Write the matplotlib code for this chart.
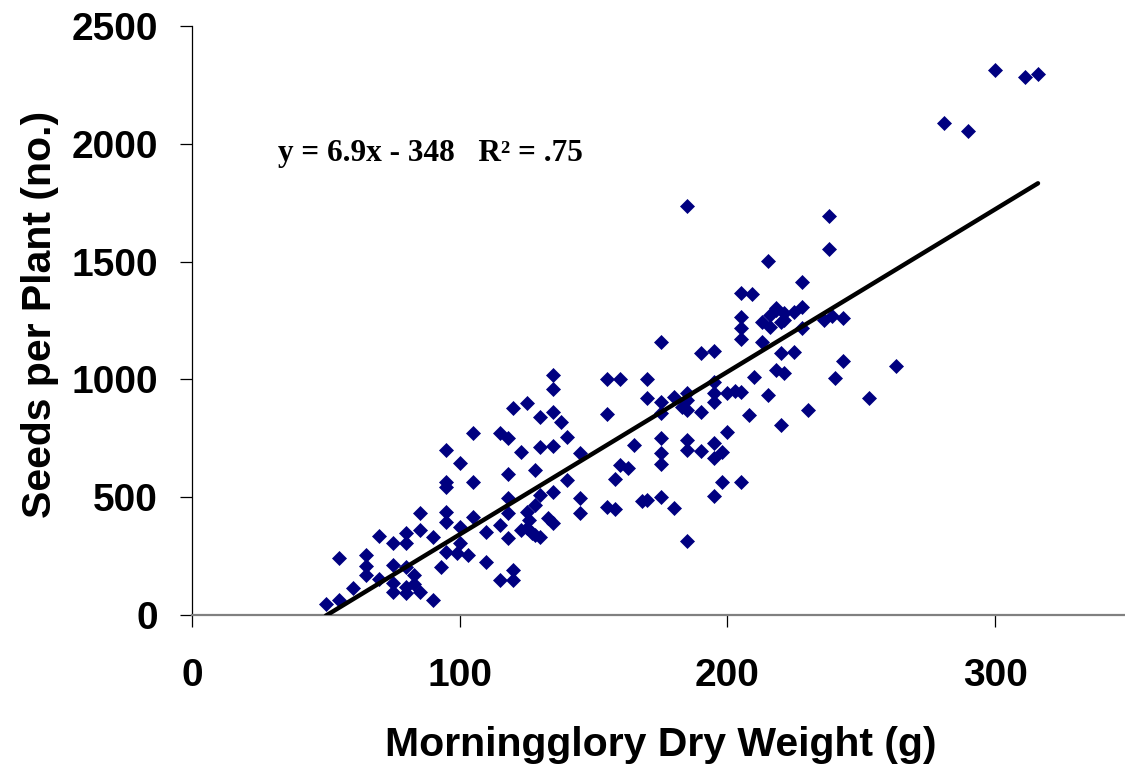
import matplotlib
matplotlib.use('Agg')
import matplotlib.pyplot as plt
import numpy as np

# dados (peso seco x sementes)
dry_weight = [50, 55, 55, 60, 65, 65, 65, 70, 70, 75, 75, 75, 75, 80, 80, 80, 80, 80, 83, 83,
              85, 85, 85, 90, 90, 93, 95, 95, 95, 95, 95, 95, 100, 100, 100, 99, 103, 105, 105, 105,
              110, 110, 115, 118, 115, 115, 118, 118, 118, 118, 120, 120, 120, 123, 123, 125, 125, 126, 125, 127,
              128, 128, 128, 130, 130, 130, 130, 133, 135, 135, 135, 135, 135, 135, 138, 140, 140, 145, 145, 145,
              155, 160, 155, 158, 160, 163, 155, 158, 165, 168, 170, 170, 170, 175, 175, 175, 175, 175, 175, 175,
              180, 180, 185, 185, 185, 183, 185, 185, 185, 185, 190, 190, 190, 195, 195, 195, 195, 195, 198, 195,
              195, 200, 203, 200, 198,
              205, 209, 205, 205, 205, 205, 205, 208, 210, 215, 218, 218, 225, 221, 216, 221, 213, 220, 216, 228,
              228, 228, 213, 220, 225, 218, 221, 215, 220, 230, 236, 239, 243, 243, 240, 253, 263, 238, 238, 281,
              290, 300, 311, 316]
seeds = [48, 62, 240, 113, 255, 209, 170, 337, 153, 304, 212, 134, 99, 347, 304, 205, 120, 95, 170, 130,
         432, 361, 99, 332, 62, 205, 700, 566, 542, 438, 396, 269, 644, 375, 304, 262, 255, 771, 566, 415,
         354, 224, 771, 750, 382, 149, 598, 495, 432, 325, 877, 191, 149, 693, 361, 898, 439, 404, 368, 346,
         617, 467, 340, 840, 712, 509, 332, 410, 1019, 958, 863, 719, 523, 392, 818, 755, 573, 686, 498, 432,
         1002, 1002, 853, 576, 637, 623, 460, 450, 722, 485, 490, 1002, 920, 1160, 906, 856, 750, 686, 640, 502,
         927, 453, 1737, 941, 913, 884, 870, 743, 700, 315, 1111, 863, 695, 1122, 990, 941, 905, 729, 693, 665,
         506, 941, 951, 775, 566,
         1365, 1361, 1266, 1217, 1170, 948, 566, 849, 1012, 1503, 1302, 1294, 1287, 1280, 1273, 1252, 1245, 1245, 1224, 1217,
         1309, 1415, 1160, 1111, 1117, 1040, 1028, 934, 806, 870, 1252, 1269, 1259, 1078, 1007, 922, 1057, 1553, 1693, 2090,
         2054, 2313, 2282, 2295]

slope = 6.9
intercept = -348
eq_text = 'y = 6.9x - 348   R\u00b2 = .75'

x_ticks = [0, 100, 200, 300]
y_ticks = [0, 500, 1000, 1500, 2000, 2500]

cor_ponto = '#000080'

plt.rcParams['font.family'] = 'Liberation Sans'
plt.rcParams['font.weight'] = 'bold'

fig = plt.figure(figsize=(11.25, 7.73), dpi=100)
ax = fig.add_axes([192/1125, 158/773, 1 - 192/1125, (615 - 26)/773])

#pontos
ax.plot(dry_weight, seeds, linestyle='none', marker='D', markersize=7.2,
        color=cor_ponto, markeredgecolor=cor_ponto, markeredgewidth=0.5, zorder=3)

#linha de tendencia
xl = np.array([min(dry_weight), max(dry_weight)])
ax.plot(xl, slope*xl + intercept, color='black', linewidth=3.2, solid_capstyle='round', zorder=4)

ax.text(32, 1960, eq_text, fontsize=22.5, fontfamily='Liberation Serif', fontweight='bold',
        ha='left', va='center')

ax.set_xlim(0, 348.5)
ax.set_ylim(0, 2500)
ax.set_xticks(x_ticks)
ax.set_yticks(y_ticks)

ax.spines['top'].set_visible(False)
ax.spines['right'].set_visible(False)
ax.spines['left'].set_linewidth(0.9)
ax.spines['bottom'].set_color('#808080')
ax.spines['bottom'].set_linewidth(1.6)

ax.tick_params(axis='x', direction='out', length=8.6, width=0.9, pad=22, labelsize=28)
ax.tick_params(axis='y', direction='out', length=8.6, width=0.9, pad=16, labelsize=28)
ax.yaxis.get_major_ticks()[0].tick1line.set_color('#808080')
for lab in ax.get_xticklabels() + ax.get_yticklabels():
    lab.set_fontweight('bold')

fig.text(40/1125, 1 - 314/773, 'Seeds per Plant (no.)', rotation=90, fontsize=29.5,
         fontweight='bold', ha='center', va='center')
fig.text(661/1125, 1 - 745/773, 'Morningglory Dry Weight (g)', fontsize=29.5,
         fontweight='bold', ha='center', va='center')

fig.savefig('out.png', dpi=100)
